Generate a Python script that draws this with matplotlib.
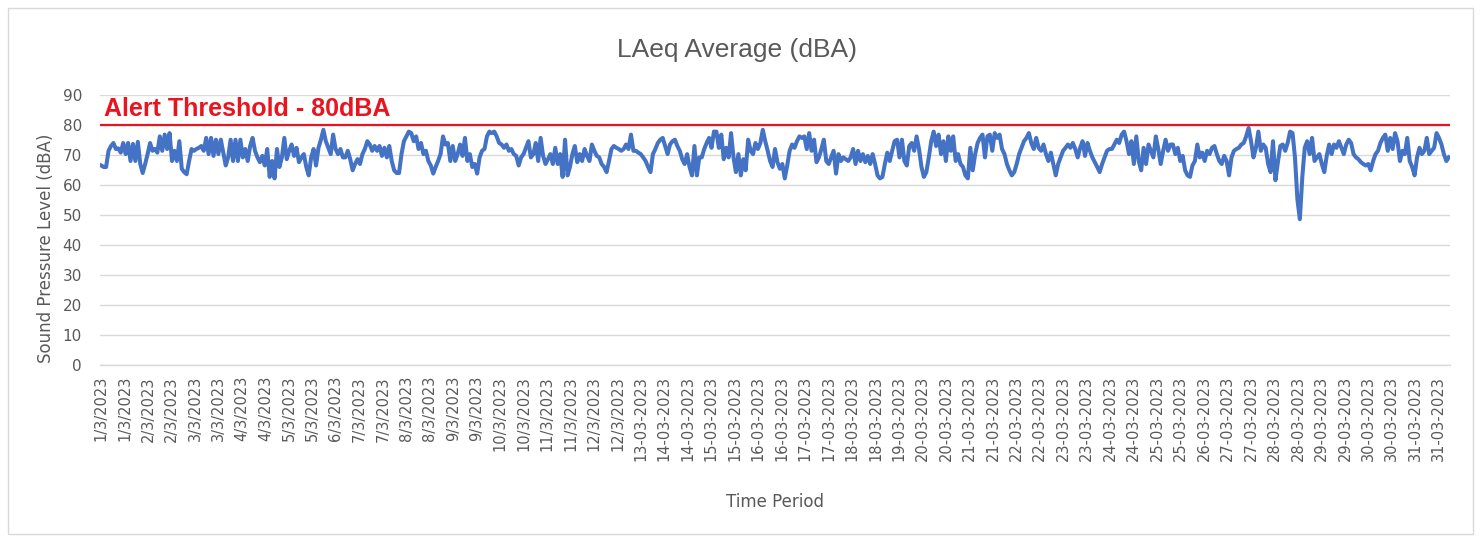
import numpy as np
import matplotlib
matplotlib.use("Agg")
import matplotlib.pyplot as plt
from matplotlib.patches import Rectangle

# ---------------- data ----------------
title = "LAeq Average (dBA)"
y_label = "Sound Pressure Level (dBA)"
x_label = "Time Period"
threshold = 80
threshold_label = "Alert Threshold - 80dBA"
y_ticks = [0, 10, 20, 30, 40, 50, 60, 70, 80, 90]

tick_labels = [
    "1/3/2023", "1/3/2023", "2/3/2023", "2/3/2023", "3/3/2023", "3/3/2023",
    "4/3/2023", "4/3/2023", "5/3/2023", "5/3/2023", "6/3/2023", "7/3/2023",
    "7/3/2023", "8/3/2023", "8/3/2023", "9/3/2023", "9/3/2023", "10/3/2023",
    "10/3/2023", "11/3/2023", "11/3/2023", "12/3/2023", "12/3/2023",
    "13-03-2023", "14-03-2023", "14-03-2023", "15-03-2023", "15-03-2023",
    "16-03-2023", "16-03-2023", "17-03-2023", "17-03-2023", "18-03-2023",
    "18-03-2023", "19-03-2023", "20-03-2023", "20-03-2023", "21-03-2023",
    "21-03-2023", "22-03-2023", "22-03-2023", "23-03-2023", "23-03-2023",
    "24-03-2023", "24-03-2023", "25-03-2023", "25-03-2023", "26-03-2023",
    "27-03-2023", "27-03-2023", "28-03-2023", "28-03-2023", "29-03-2023",
    "29-03-2023", "30-03-2023", "30-03-2023", "31-03-2023", "31-03-2023",
]

laeq_part1 = [
    66.5, 66, 66, 71.4, 73, 74, 72, 72.2, 70.8, 74, 70.3, 74, 68, 73.7, 68, 74.4,
    67, 64, 67, 70.3, 74, 71.4, 72, 70.8, 76.2, 71.4, 76.8, 72, 77.3, 68, 71.4, 68,
    74.6, 65.4, 64.3, 63.6, 68, 72, 71.4, 72, 72.4, 73, 71.4, 75.7, 70.3, 75.7, 69.7,
    75.1, 70.3, 75.1, 70.8, 66.5, 69.2, 75.1, 68, 75.1, 68, 75.1, 69.2, 72, 68, 73,
    75.7, 71.4, 69.2, 67.6, 69.7, 66.5, 72, 62.7, 68, 62.2, 72, 66, 69.2, 75.7, 68.6,
    71.4, 73.5, 69.7, 72.4, 67.6, 69.2, 70.3, 66, 63.2, 69.2, 72, 66.5, 72.4, 75.1,
    78.4, 74.6, 72.4, 70.3, 76.8, 72, 70.3, 72, 69.2, 69.2, 71.4, 68.6, 64.9, 67, 68.6,
]
laeq_part2 = [
    67, 70.3, 72, 74.6, 73.5, 71.4, 73, 71.4, 73, 69.7, 72.4, 69.2, 73, 68, 64.9, 64,
    64, 70.3, 74.6, 76.2, 77.8, 77.3, 74.6, 76.2, 72, 74, 70.3, 71.4, 68, 66.5, 63.8,
    66, 68, 70.3, 76.2, 73.5, 74, 68, 73, 68, 70.3, 73.5, 69.7, 75.7, 68, 70.3, 66,
    67, 63.8, 69.2, 71.4, 72, 76.2, 77.8, 77.3, 77.8, 76.2, 74, 73.5, 72.4, 73.5, 71.4,
    72, 70.3, 69.7, 66.5, 69.2, 70.3, 72.4, 74.6, 69.2, 70.3, 74, 68, 75.7, 69.7, 67,
    68.6, 70.3, 67, 72.4, 67, 70.3, 62.7, 75.1, 63.2, 66, 70.3, 73, 67.6, 70.3, 68,
    72, 69.7, 68, 73.5, 71.4, 69.7, 69.2, 67, 66, 64.3, 68, 72, 73, 72.4,
]
laeq_part3 = [
    72, 71.4, 72, 73.5, 72, 76.8, 71.4, 71.4, 70.8, 70.3, 69.2, 68, 66, 64.3, 70.3, 72,
    74, 75.1, 75.7, 73, 70.3, 73.5, 74.6, 75.1, 73, 71.4, 68.6, 67, 70.3, 66, 63.2, 73,
    63.2, 69.2, 69.2, 72, 74, 75.7, 72.4, 77.8, 77.8, 72.4, 76.8, 68.6, 72.4, 69.2,
    77.3, 69.2, 64.3, 70.3, 63.2, 68.6, 64.9, 75.1, 71.4, 70.3, 74, 72, 74, 78.4, 74.6,
    71.4, 68, 66, 72, 67.6, 65.4, 67, 62.2, 66.5, 71.4, 73.5, 72.4, 74.6, 76.2, 75.7,
    76.2, 72, 77.3, 71.4, 75.1, 67.6, 69.2, 72, 75.1, 68, 67, 69.2, 71.4, 63.8, 70.3,
    68, 69.2, 68.6, 68, 69.2, 72, 67, 71.4, 68, 70.3, 67.6, 69.7, 67, 70.3, 67, 63.2,
    62.2, 62.7, 67, 70.8, 68, 71.4, 74.6, 75.1, 69.2,
]
laeq_part4 = [
    75.1, 68, 66.5, 73, 74, 71.4, 76.2, 72, 66, 62.7, 64.3, 69.2, 74.6, 77.8, 73, 76.8,
    70.3, 74.6, 68, 76.2, 71.4, 76.2, 68, 70.3, 67, 66, 63.2, 62.2, 72.4, 64.9, 70.3,
    74, 75.7, 76.8, 69.2, 76.2, 76.8, 71.4, 77.3, 75.7, 76.8, 72, 70.3, 67, 64.9, 63.2,
    64.3, 67, 70.3, 72.4, 74.6, 75.7, 77.3, 74, 72, 75.7, 72.4, 71.4, 73.5, 70.3, 68,
    70.8, 67, 63.2, 67, 69.2, 71.4, 72.4, 73.5, 72.4, 74, 72, 69.2, 72.4, 74.6, 69.7,
    74, 71.4, 69.2, 67.6, 66, 64.3, 67, 69.2, 71.4, 72, 72, 73.5, 75.1, 74, 76.8, 77.8,
    74.6, 70.3, 74.6, 67, 76.2, 68, 64.9, 72.4, 67, 73.5, 71.4, 69.2, 76.2, 72, 67,
    71.4, 75.1, 71.4, 73.5,
]
laeq_part5 = [
    73.5, 70.3, 72.4, 68, 69.7, 64.9, 63.2, 62.7, 66.5, 68, 73.5, 69.2, 70.8, 68, 71.4,
    70.3, 72.4, 73, 70.3, 68, 67, 69.7, 68, 63.2, 69.2, 71.4, 72, 72.4, 73.5, 74, 76.2,
    79, 74.6, 69.2, 72.4, 77.8, 71.4, 73.5, 72.4, 67, 64.3, 74.6, 61.6, 67.6, 73, 73.5,
    71.4, 74, 77.8, 77.3, 69.2, 55.1, 48.6, 62.7, 72.4, 74.6, 70.3, 75.7, 68, 69.2,
    70.3, 67, 64.3, 69.7, 73.5, 70.3, 73.5, 72.4, 74.6, 72.4, 70.3, 73.5, 75.1, 74,
    70.3, 69.2, 68.6, 67.6, 67, 66.5, 67, 64.9, 68, 70.3, 71.4, 74, 75.7, 76.8, 71.4,
    75.7, 72, 77.3, 74.6, 68, 71.4, 70.3, 75.7, 68, 66, 63.2, 69.2, 72.4, 70.3, 71.4,
    75.7, 70.3, 71.4, 72.4, 77.3, 75.7, 73.5, 70.3, 68, 69.2,
]
laeq = laeq_part1 + laeq_part2 + laeq_part3 + laeq_part4 + laeq_part5

# ---------------- styling ----------------
plt.rcParams["font.family"] = ["DejaVu Sans"]

grey_text = "#595959"
grid_col = "#d9d9d9"
line_col = "#4472C4"
red = "#e8141f"

W, H = 1481, 540
fig = plt.figure(figsize=(W / 100, H / 100), dpi=100)
fig.patch.set_facecolor("white")

# chart border
fig.patches.append(Rectangle((8 / W, 6 / H), 1 - 16 / W, 1 - 14 / H,
                             transform=fig.transFigure, fill=False,
                             edgecolor="#d9d9d9", linewidth=1.0))

left, right, top, bottom = 100 / W, 1450 / W, 95 / H, 365 / H
ax = fig.add_axes([left, 1 - bottom, right - left, bottom - top])

n = len(laeq)
x = np.arange(n)
ax.plot(x, laeq, color=line_col, linewidth=2.9, solid_joinstyle="round", zorder=3)
ax.axhline(threshold, color=red, linewidth=1.6, zorder=4)

ax.set_xlim(-0.5, n - 0.5)
ax.set_ylim(0, 90)
ax.set_yticks(y_ticks)
ax.yaxis.grid(True, color=grid_col, linewidth=1.0)
ax.set_axisbelow(True)

# category ticks spread across the data points
frac = (1440 - 103) / (1447 - 100)
tick_pos = np.linspace(0, (n - 1) * frac, len(tick_labels))
ax.set_xticks(tick_pos)
ax.set_xticklabels(tick_labels, rotation=90, fontsize=10.5, color=grey_text)
ax.tick_params(axis="x", length=0, pad=8)
ax.tick_params(axis="y", length=0, pad=13, labelsize=11, labelcolor=grey_text)

for s in ["top", "right", "left"]:
    ax.spines[s].set_visible(False)
ax.spines["bottom"].set_color(grid_col)
ax.spines["bottom"].set_linewidth(1.0)

ax.text(1, 81.3, threshold_label, color=red, fontsize=18, fontweight="bold",
        family="Liberation Sans", va="bottom", ha="left", zorder=5)

fig.text(737 / W, 1 - 50 / H, title, ha="center", va="center", fontsize=19,
         color=grey_text, family=["Liberation Sans", "DejaVu Sans"])
fig.text(46 / W, 1 - 248 / H, y_label, rotation=90, ha="center", va="center",
         fontsize=12, color=grey_text)
fig.text(775 / W, 1 - 502 / H, x_label, ha="center", va="center",
         fontsize=12, color=grey_text)

fig.savefig("out.png", dpi=100, facecolor="white")
